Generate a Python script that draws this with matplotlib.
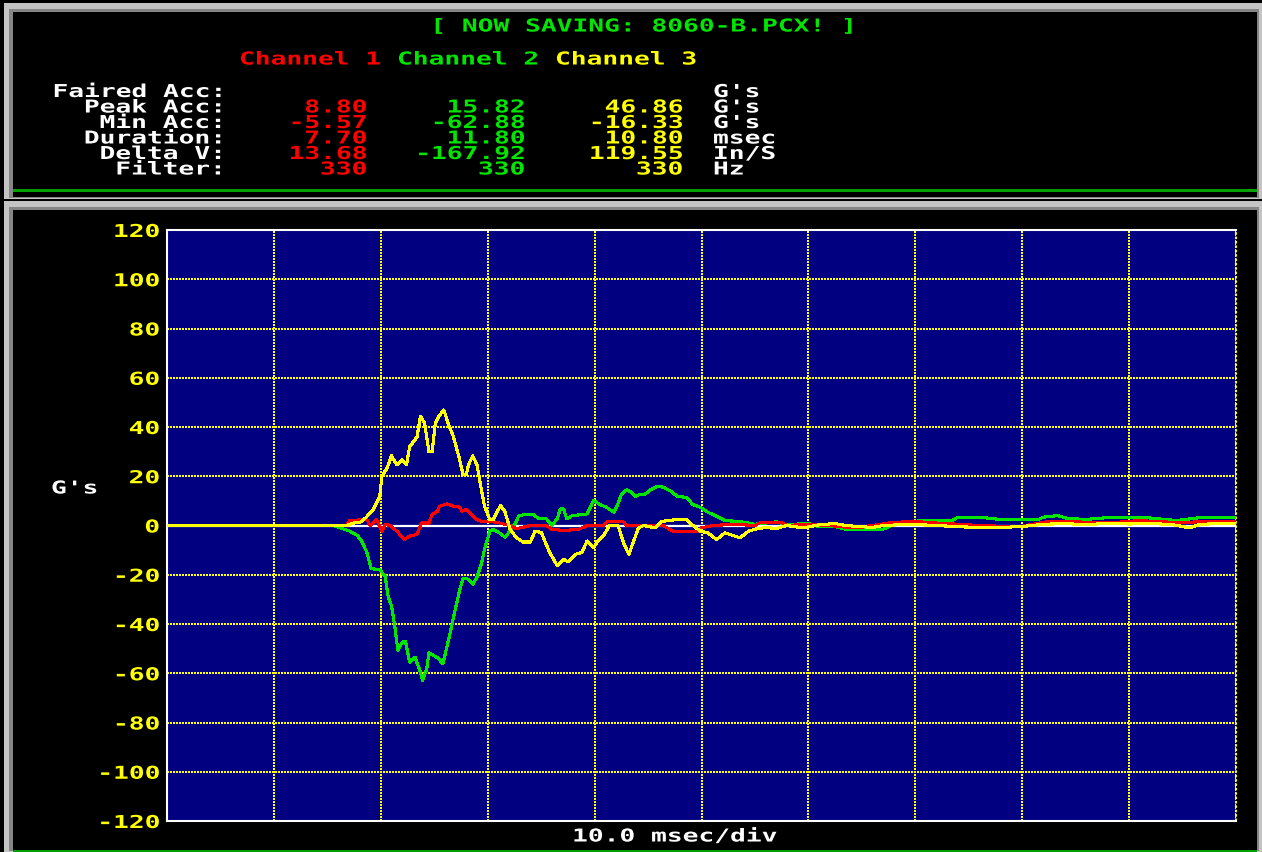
import matplotlib
matplotlib.use('Agg')
import matplotlib.pyplot as plt
from matplotlib.patches import Rectangle
from matplotlib.patheffects import AbstractPathEffect
from matplotlib.transforms import Affine2D

W, H = 1262, 852

# --- data (msec, G's) ---
t_ch1 = [0, 16.8, 17.1, 18.7, 19.0, 19.6, 20.1, 20.4, 20.9, 21.5, 22.2, 22.7, 23.4, 23.8, 24.5, 24.8,
         25.3, 25.5, 26.2, 26.8, 27.3, 27.6, 28.0, 28.5, 29.0, 29.4, 30.4, 32.1, 32.7, 34.0, 35.5, 36.0,
         37.1, 38.5, 39.3, 40.8, 41.2, 42.7, 43.0, 46.4, 46.8, 47.4, 49.6, 49.9, 51.1, 53, 55, 55.5,
         57.5, 58, 60, 62, 63, 64.5, 66, 68, 70, 72, 74, 76, 78, 80, 81, 82.4, 85, 88, 91, 93, 95, 97, 100]
g_ch1 = [0, 0, 2, 2.5, 0, 2.5, -2.3, 0.5, 0, -2.3, -5.6, -4.3, -3.6, 1, 1, 4.4,
         5.8, 7.8, 8.8, 7.8, 7.8, 5.8, 6.5, 4.4, 2.4, 1.7, 1.7, 0, -1.3, 0, 0, -1.6,
         -2, -1.6, 0, 0, 1.5, 1.5, 0, 0, -1, -2.4, -2.5, -1, 0, 0.5, 0, 1.2,
         1.2, 0, 0.5, 0, -0.5, -1, 0, 1.3, 1.6, 1.0, 0.5, 0, -0.3, -0.3, 0.5, 1.6, 1.5, 1.0, 2.0, 1.5, 1.2, 1.6, 1.6]

t_ch2 = [0, 15.6, 16.2, 17.1, 17.8, 18.2, 18.7, 19.1, 19.9, 20.4, 20.7, 21.0, 21.3, 21.6, 22.0, 22.3, 22.7,
         23.2, 23.7, 23.9, 24.3, 24.5, 24.9, 25.4, 25.8, 26.1, 26.5, 26.9, 27.4, 27.7, 28.2, 28.6, 29.0,
         29.4, 29.7, 30.2, 30.5, 31.0, 31.6, 32.1, 32.6, 32.9, 33.3, 34.3, 34.8, 35.5, 36.0, 36.5, 36.8,
         37.1, 37.4, 37.9, 38.5, 39.3, 39.9, 40.5, 41.1, 41.8, 42.1, 42.5, 43.0, 43.5, 43.8, 44.2, 44.7,
         45.2, 45.8, 46.4, 47.1, 47.7, 48.6, 49.2, 49.9, 50.6, 51.4, 52.2, 53.6, 55, 57, 58, 60,
         61, 62.5, 63.5, 65, 67, 68, 69, 71, 73.5, 74, 76, 78, 81.5, 82, 83.3, 84.3,
         86, 88, 90, 91.1, 93, 94.5, 95.5, 97, 100]
g_ch2 = [0, 0, -1, -2.3, -4, -6.3, -11, -17.5, -18, -20.5, -29.2, -32.6, -40.7, -50.8, -47.4, -47, -55.5,
         -53.5, -59.5, -62.9, -58.2, -51.7, -52.7, -54, -56.2, -50.8, -43.4, -35.3, -25.9, -21.4, -21.8, -23.8, -21,
         -15.8, -9.7, -2.3, -1.6, -2.7, -4.7, -2.3, 1, 3.8, 4.3, 4.3, 2.7, 2.7, 0, 2.7, 6.7,
         6.7, 2.7, 4, 4.3, 4.7, 10.2, 8.5, 7.4, 5.4, 8, 12.5, 14.5, 13.3, 11.8, 12.6, 12.6,
         14.5, 15.8, 15.6, 14, 12, 11.3, 8.5, 7.4, 5.4, 3.8, 2, 1.6, 0.5, 1.5, 0.3, 0.9,
         -0.5, -0.4, -1.5, -1.5, -1.5, 0.5, 1.5, 2, 2.2, 3.4, 3.4, 2.4, 2.4, 3.4, 4, 2.8,
         2.5, 3.2, 3.2, 3.4, 2.6, 2.0, 2.6, 3.4, 3.4]

t_ch3 = [0, 16.8, 17.5, 18.2, 18.7, 19.3, 19.9, 20.1, 20.6, 21.0, 21.5, 22.0, 22.4, 22.7, 23.4, 23.7,
         24.1, 24.5, 24.8, 25.1, 25.4, 25.9, 26.3, 26.8, 27.3, 27.7, 28.0, 28.2, 28.6, 29.0, 29.3, 29.7,
         30.2, 30.5, 31.2, 31.6, 32.1, 32.7, 33.3, 34.0, 34.4, 35.0, 35.8, 36.5, 37.1, 37.5, 38.2, 38.8,
         39.3, 39.9, 40.2, 40.8, 41.4, 42.2, 42.7, 43.2, 43.6, 44.1, 44.6, 45.7, 46.3, 47.7, 48.6, 49.2,
         49.9, 50.6, 51.4, 52.2, 53.6, 54.4, 55, 56, 57, 58, 59.5, 61, 62.5, 63.5, 65, 66,
         67, 68.5, 70, 72, 74, 76, 78, 80, 82, 84, 86, 88, 90, 92, 94, 95.7,
         96.5, 98, 100]
g_ch3 = [0, 0, 1, 1.5, 3.6, 6.5, 11.8, 20, 23.4, 28.3, 24.6, 26.7, 24.6, 32, 36, 44.4,
         41.5, 30, 30, 41.5, 44.2, 46.9, 41.5, 36, 28, 20.6, 20.6, 24.6, 28.3, 24.6, 17.2, 7.8,
         2.4, 2.4, 8.1, 5.8, -1.6, -5, -6.7, -6.7, -2.5, -2.7, -11, -16.3, -13.7, -14.8, -11.7, -11,
         -6.3, -9, -7, -4.3, 0, 0, -7, -11.7, -7, -1, 0, -1, 1.7, 2.4, 2.4, 0,
         -2.3, -3, -5.7, -3, -5, -2.3, -1.5, -0.8, -1.2, 0, -1.0, 0.3, 0.8, 0, -0.5, -0.8,
         0, 0.3, 0.4, 0, -0.5, -0.8, -0.8, -0.4, 0.5, 0.8, 0.3, 0.9, 0.6, 0.8, 0.4, -1.0,
         0.3, 0.8, 0.9]

channels = ['Channel 1', 'Channel 2', 'Channel 3']
row_labels = ['Faired Acc:', 'Peak Acc:', 'Min Acc:', 'Duration:', 'Delta V:', 'Filter:']
ch1_vals = ['', '8.80', '-5.57', '7.70', '13.68', '330']
ch2_vals = ['', '15.82', '-62.88', '11.80', '-167.92', '330']
ch3_vals = ['', '46.86', '-16.33', '10.80', '119.55', '330']
units = ["G's", "G's", "G's", 'msec', 'In/S', 'Hz']
yticks = list(range(-120, 121, 20))
ytick_labels = [str(v) for v in yticks]

RED, GREEN, YELLOW, NAVY = '#ff0000', '#00e600', '#ffff00', '#000080'
LGRAY, DGRAY = '#c4c4c4', '#858585'

plt.rcParams['font.family'] = 'DejaVu Sans Mono'
plt.rcParams['font.weight'] = 'bold'
FS = 12.8


class Wide(AbstractPathEffect):
    # stretch glyphs sideways round x0 so the mono font gets the wide DOS look
    def __init__(self, x0, sx=1.476):
        super().__init__()
        self.x0, self.sx = x0, sx

    def draw_path(self, renderer, gc, tpath, affine, rgbFace=None):
        st = Affine2D().translate(-self.x0, 0).scale(self.sx, 1).translate(self.x0, 0)
        renderer.draw_path(gc, tpath, affine + st, rgbFace)


fig = plt.figure(figsize=(W / 100, H / 100), dpi=100, facecolor='black')


def box(x0, y0, x1, y1, color):
    fig.add_artist(Rectangle((x0 / W, 1 - y1 / H), (x1 - x0) / W, (y1 - y0) / H,
                             transform=fig.transFigure, facecolor=color, edgecolor='none',
                             zorder=-10))


def dos(x, ymid, s, color, ha='left'):
    fig.text(x / W, 1 - (ymid + 6.5) / H, s, color=color, ha=ha, va='baseline',
             fontsize=FS, path_effects=[Wide(x)])


# screen frames
for top, bot in [(3, 199), (201, 852)]:
    box(4, top, 1262, bot, LGRAY)
    box(9, top + 6, 1259, bot - 1, DGRAY)
    box(13, top + 9, 1257, bot - 2, 'black')
box(13, 189, 1257, 191.5, '#00a000')
box(13, 849.5, 1257, 852, '#00a000')

# header panel
dos(642, 25, '[ NOW SAVING: 8060-B.PCX! ]', GREEN, ha='center')
for name, x, c in zip(channels, [239, 397, 555], [RED, GREEN, YELLOW]):
    dos(x, 58, name, c)
rows_y = [90.5, 106, 121.5, 137, 152.5, 168]
for i, y in enumerate(rows_y):
    dos(225, y, row_labels[i], 'white', ha='right')
    dos(367, y, ch1_vals[i], RED, ha='right')
    dos(525, y, ch2_vals[i], GREEN, ha='right')
    dos(683, y, ch3_vals[i], YELLOW, ha='right')
    dos(713, y, units[i], 'white')

# plot
ax = fig.add_axes([167 / W, (H - 821) / H, (1236 - 167) / W, (821 - 230) / H], facecolor=NAVY)
ax.set_xlim(0, 100)
ax.set_ylim(-120, 120)
ax.set_xticks(range(0, 101, 10))
ax.set_xticklabels([])
ax.set_yticks(yticks)
ax.set_yticklabels(ytick_labels)
ax.tick_params(axis='both', length=0)
ax.tick_params(axis='y', pad=5.04, labelcolor=YELLOW, labelsize=FS)
for tk in ax.yaxis.get_major_ticks():
    tk.label1.set_path_effects([Wide(160)])
ax.grid(True, color=YELLOW, linestyle=(0, (1.2, 0.9)), linewidth=1.1, antialiased=False)
ax.axvline(100, color=YELLOW, linestyle=(0, (1.2, 0.9)), linewidth=1.5, clip_on=False)
for side in ['left', 'top', 'bottom']:
    ax.spines[side].set_color('white')
    ax.spines[side].set_linewidth(1.5)
ax.spines['right'].set_visible(False)

ax.axhline(0, color='white', linewidth=1.6, zorder=3)
ax.plot(t_ch2, g_ch2, color=GREEN, linewidth=1.5, antialiased=False, zorder=4)
ax.plot(t_ch1, g_ch1, color=RED, linewidth=1.5, antialiased=False, zorder=5)
ax.plot(t_ch3, g_ch3, color=YELLOW, linewidth=1.5, antialiased=False, zorder=6)

dos(74.5, 487, "G's", 'white', ha='center')
dos(674, 835, '10.0 msec/div', 'white', ha='center')

fig.savefig('out.png', dpi=100, facecolor='black')
